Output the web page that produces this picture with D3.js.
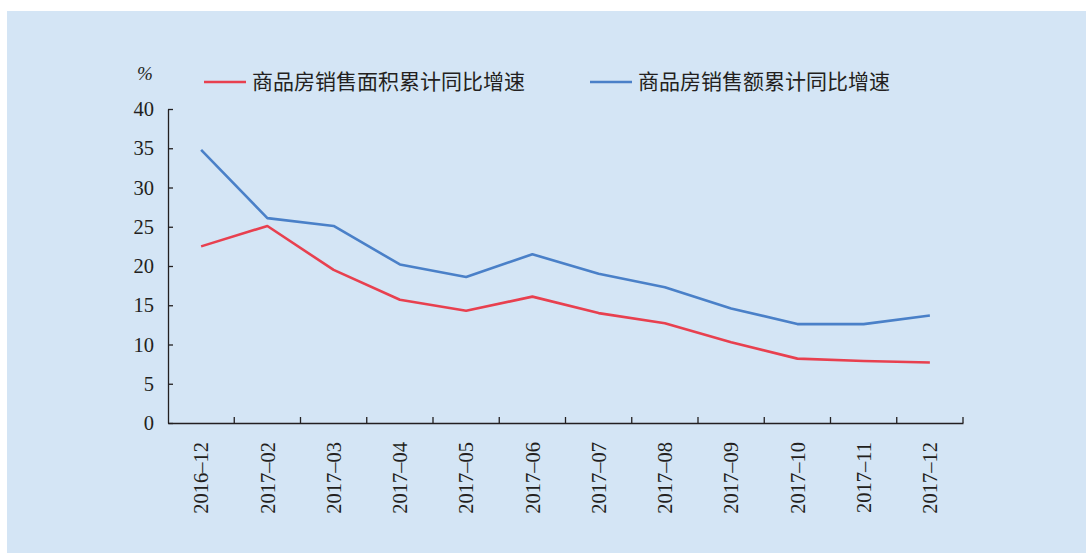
<!DOCTYPE html>
<html>
<head>
<meta charset="utf-8">
<script src="https://cdn.jsdelivr.net/npm/d3@7"></script>
<style>
  body { margin: 0; background: #fff; }
  svg { display: block; }
  .axis text { font-family: "Liberation Serif", "DejaVu Serif", serif; font-size: 20.5px; fill: #231f20; }
  .axis path, .axis line { stroke: #231f20; stroke-width: 1.3; }
</style>
</head>
<body>
<svg id="chart" width="1086" height="553"></svg>
<script>
var months = ['2016–12', '2017–02', '2017–03', '2017–04', '2017–05', '2017–06',
    '2017–07', '2017–08', '2017–09', '2017–10', '2017–11', '2017–12'];
var areaGrowth = [22.5, 25.1, 19.5, 15.7, 14.3, 16.1, 14.0, 12.7, 10.3, 8.2, 7.9, 7.7];
var salesGrowth = [34.8, 26.1, 25.1, 20.2, 18.6, 21.5, 19.0, 17.3, 14.6, 12.6, 12.6, 13.7];
var seriesNames = ['商品房销售面积累计同比增速', '商品房销售额累计同比增速'];
var yTicks = [0, 5, 10, 15, 20, 25, 30, 35, 40];

var colors = ['#e8404f', '#4a80c8'];
var margin = { top: 109, right: 123, bottom: 130, left: 168 };
var width = 1086 - margin.left - margin.right,
    height = 553 - margin.top - margin.bottom;

var svg = d3.select('#chart');

// light blue panel
svg.append('rect')
    .attr('x', 7).attr('y', 11)
    .attr('width', 1086 - 7).attr('height', 553 - 11)
    .attr('fill', '#d4e5f5');

var g = svg.append('g')
    .attr('transform', 'translate(' + margin.left + ',' + margin.top + ')');

var x = d3.scaleBand().domain(months).range([0, width]);
var y = d3.scaleLinear().domain([0, 40]).range([height, 0]);

// y axis, ticks pointing inward
var yAxis = g.append('g').attr('class', 'axis')
    .call(d3.axisLeft(y).tickValues(yTicks).tickSize(-5).tickPadding(14).tickSizeOuter(0));

// x axis: ticks on band edges, labels vertical
var xAxis = g.append('g').attr('class', 'axis')
    .attr('transform', 'translate(0,' + height + ')')
    .call(d3.axisBottom(x).tickSize(0).tickSizeOuter(0).tickFormat(''));

var edges = d3.range(1, months.length + 1).map(function (i) { return i * x.step(); });
xAxis.selectAll('.edge')
    .data(edges)
    .enter().append('line')
    .attr('class', 'edge')
    .attr('x1', function (d) { return d; })
    .attr('x2', function (d) { return d; })
    .attr('y1', 0).attr('y2', -6);

xAxis.selectAll('.mlabel')
    .data(months)
    .enter().append('text')
    .attr('class', 'mlabel')
    .attr('transform', function (d) {
        return 'translate(' + (x(d) + x.bandwidth() / 2) + ',19) rotate(-90)';
    })
    .attr('text-anchor', 'end')
    .attr('dy', '0.35em')
    .text(function (d) { return d; });

// lines
var line = d3.line()
    .x(function (d, i) { return x(months[i]) + x.bandwidth() / 2; })
    .y(function (d) { return y(d); });

[areaGrowth, salesGrowth].forEach(function (vals, k) {
    g.append('path')
        .datum(vals)
        .attr('fill', 'none')
        .attr('stroke', colors[k])
        .attr('stroke-width', 2.6)
        .attr('stroke-linejoin', 'round')
        .attr('d', line);
});

// unit label
svg.append('text')
    .attr('x', 145).attr('y', 80)
    .attr('text-anchor', 'middle')
    .style('font-family', '"Liberation Serif", serif')
    .style('font-style', 'italic')
    .style('font-size', '19px')
    .style('fill', '#231f20')
    .text('%');

// legend
var legendX = [204, 590];
var legend = svg.selectAll('.legend')
    .data(seriesNames)
    .enter().append('g')
    .attr('class', 'legend')
    .attr('transform', function (d, i) { return 'translate(' + legendX[i] + ',82)'; });

legend.append('line')
    .attr('x1', 0).attr('x2', 42)
    .attr('stroke', function (d, i) { return colors[i]; })
    .attr('stroke-width', 2.6);

legend.append('text')
    .attr('x', 48)
    .attr('dy', '0.35em')
    .style('font-family', '"Noto Sans CJK SC", sans-serif')
    .style('font-size', '21px')
    .style('fill', '#231f20')
    .text(function (d) { return d; });
</script>
</body>
</html>
